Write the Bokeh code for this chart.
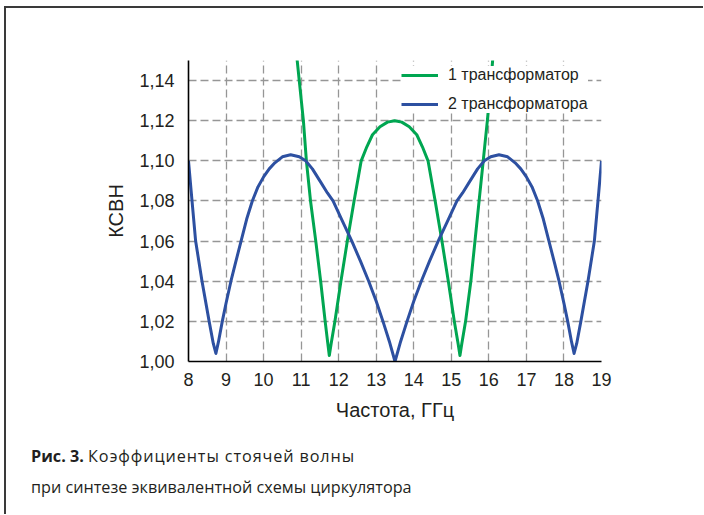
from bokeh.plotting import figure
from bokeh.layouts import column
from bokeh.models import FixedTicker, CustomJSTickFormatter, Legend, LegendItem, Div
from bokeh.embed import file_html
from bokeh.resources import INLINE

# ---- data ----
freq_1 = [10.84, 10.95, 11.06, 11.14, 11.25, 11.39, 11.52, 11.64, 11.71, 11.75, 11.80, 11.90,
          12.06, 12.23, 12.41, 12.60, 12.75, 12.90, 13.10, 13.30, 13.49, 13.68, 13.88, 14.08,
          14.23, 14.38, 14.57, 14.75, 14.92, 15.08, 15.18, 15.23, 15.28, 15.38, 15.52, 15.63,
          15.74, 15.85, 15.96, 16.06, 16.14]
vswr_1 = [1.160, 1.140, 1.120, 1.100, 1.080, 1.060, 1.040, 1.020, 1.009, 1.003, 1.009, 1.020,
          1.040, 1.060, 1.080, 1.100, 1.107, 1.113, 1.117, 1.1193, 1.120, 1.1193, 1.117, 1.113,
          1.107, 1.100, 1.080, 1.060, 1.040, 1.020, 1.009, 1.003, 1.009, 1.020, 1.040, 1.060,
          1.080, 1.100, 1.120, 1.140, 1.160]

freq_2 = [8.00, 8.07, 8.19, 8.36, 8.55, 8.66, 8.73, 8.80, 8.90, 9.00, 9.13, 9.25, 9.40, 9.55,
          9.70, 9.85, 10.00, 10.15, 10.30, 10.50, 10.72, 10.95, 11.12, 11.30, 11.50, 11.70,
          11.85, 12.10, 12.35, 12.58, 12.80, 13.00, 13.18, 13.35, 13.50, 13.65, 13.82, 14.00,
          14.20, 14.42, 14.65, 14.90, 15.15, 15.30, 15.50, 15.70, 15.88, 16.05, 16.27, 16.50,
          16.70, 16.85, 17.00, 17.15, 17.30, 17.45, 17.60, 17.75, 17.87, 18.00, 18.10, 18.20,
          18.27, 18.34, 18.45, 18.64, 18.81, 18.93, 19.00]
vswr_2 = [1.100, 1.085, 1.060, 1.040, 1.020, 1.009, 1.004, 1.010, 1.020, 1.029, 1.040, 1.049,
          1.060, 1.071, 1.080, 1.087, 1.092, 1.096, 1.099, 1.102, 1.103, 1.102, 1.100, 1.096,
          1.090, 1.084, 1.080, 1.070, 1.060, 1.050, 1.040, 1.030, 1.020, 1.010, 1.000, 1.010,
          1.020, 1.030, 1.040, 1.050, 1.060, 1.070, 1.080, 1.084, 1.090, 1.096, 1.100, 1.102,
          1.103, 1.102, 1.099, 1.096, 1.092, 1.087, 1.080, 1.071, 1.060, 1.049, 1.040, 1.029,
          1.020, 1.010, 1.004, 1.009, 1.020, 1.040, 1.060, 1.085, 1.100]

x_ticks = [8, 9, 10, 11, 12, 13, 14, 15, 16, 17, 18, 19]
y_ticks = [1.00, 1.02, 1.04, 1.06, 1.08, 1.10, 1.12, 1.14]
series_names = ["1 трансформатор", "2 трансформатора"]
x_label = "Частота, ГГц"
y_label = "КСВН"
caption_bold = "Рис. 3."
caption_line1 = "Коэффициенты стоячей волны"
caption_line2 = "при синтезе эквивалентной схемы циркулятора"

# ---- layout ----
W = 697
FL, FT, FW, FH = 182, 52, 413, 301
BOTTOM = 75
CAP_H = 78

text_col = "#231f20"
green = "#00a651"
blue = "#2d50a1"

p = figure(frame_width=FW, frame_height=FH,
           min_border_left=FL, min_border_right=W - FL - FW,
           min_border_top=FT, min_border_bottom=BOTTOM,
           x_range=(8, 19), y_range=(1.0, 1.15),
           output_backend="svg", toolbar_location=None)

p.outline_line_color = None
p.background_fill_color = "white"
p.border_fill_color = "white"

for ax in (p.xaxis[0], p.yaxis[0]):
    ax.axis_line_color = "black"
    ax.axis_line_width = 1.6
    ax.major_tick_line_color = None
    ax.minor_tick_line_color = None
    ax.major_tick_out = 0
    ax.major_tick_in = 0
    ax.major_label_text_font = "Liberation Sans"
    ax.major_label_text_font_size = "18px"
    ax.major_label_text_color = text_col
    ax.axis_label_text_font = "Liberation Sans"
    ax.axis_label_text_font_size = "20px"
    ax.axis_label_text_font_style = "normal"
    ax.axis_label_text_color = text_col

p.xaxis.ticker = FixedTicker(ticks=x_ticks)
p.yaxis.ticker = FixedTicker(ticks=y_ticks)
p.yaxis.formatter = CustomJSTickFormatter(code="return tick.toFixed(2).replace('.', ',');")
p.xaxis.major_label_standoff = 11
p.yaxis.major_label_standoff = 14
p.xaxis.axis_label = x_label
p.yaxis.axis_label = y_label
p.xaxis.axis_label_standoff = 10
p.yaxis.axis_label_standoff = 9

for g in (p.xgrid[0], p.ygrid[0]):
    g.grid_line_color = "#969696"
    g.grid_line_width = 1.3
    g.grid_line_dash = "8 4"

r1 = p.line(freq_1, vswr_1, line_color=green, line_width=3, line_join="round")
r2 = p.line(freq_2, vswr_2, line_color=blue, line_width=3, line_join="round")

legend = Legend(items=[LegendItem(label=series_names[0], renderers=[r1]),
                       LegendItem(label=series_names[1], renderers=[r2])],
                location=(213, 248))
legend.background_fill_color = "white"
legend.background_fill_alpha = 1.0
legend.border_line_color = None
legend.label_text_font = "Liberation Sans"
legend.label_text_font_size = "16px"
legend.label_text_color = text_col
legend.glyph_width = 37
legend.glyph_height = 16
legend.label_height = 16
legend.label_standoff = 10
legend.spacing = 11
legend.padding = 2
legend.margin = 0
p.add_layout(legend)

# ---- caption ----
cap_html = (
    '<div style="position:relative; top:5px; margin:0; padding:0 0 0 25px; '
    "font-family:'Open Sans', sans-serif; font-size:16.2px; line-height:31px; "
    'color:%s; white-space:nowrap;">'
    '<b>%s</b> <span style="letter-spacing:0.9px;">%s</span><br>%s</div>'
    % (text_col, caption_bold, caption_line1, caption_line2)
)
cap = Div(text=cap_html, width=W, height=CAP_H, margin=0)

layout = column(p, cap, spacing=0,
                styles={"border-top": "2px solid #3a3a3a", "border-left": "2px solid #3a3a3a",
                        "transform": "translate(4px, 6px)"})

open("out.html", "w").write(file_html(layout, INLINE))
